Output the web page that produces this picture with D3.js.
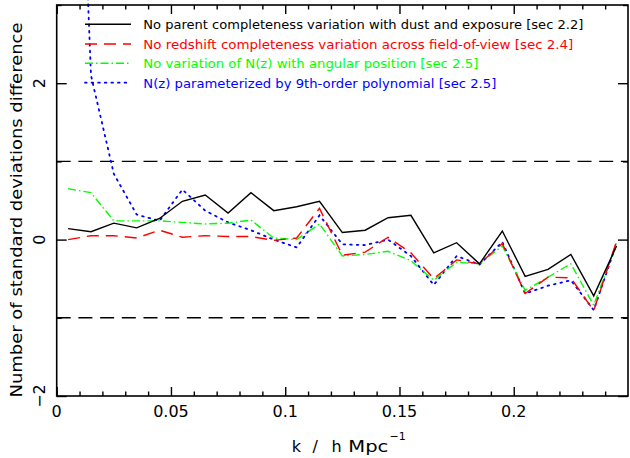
<!DOCTYPE html>
<html><head><meta charset="utf-8">
<script src="https://cdn.jsdelivr.net/npm/d3@7"></script>
<style>html,body{margin:0;padding:0;background:#fff;}svg{display:block;}</style>
</head><body>
<svg id="c" width="630" height="458"></svg>
<script>
const kValues = [0.005,0.015,0.025,0.035,0.045,0.055,0.065,0.075,0.085,0.095,0.105,0.115,0.125,0.135,0.145,0.155,0.165,0.175,0.185,0.195,0.205,0.215,0.225,0.235,0.245];
const parentDust = [0.14,0.10,0.21,0.15,0.27,0.49,0.57,0.34,0.60,0.37,0.42,0.49,0.09,0.12,0.28,0.31,-0.17,-0.04,-0.31,0.11,-0.47,-0.38,-0.19,-0.72,-0.08];
const redshiftFov = [0.00,0.05,0.05,0.02,0.12,0.03,0.05,0.04,0.04,-0.01,0.02,0.40,-0.20,-0.16,0.03,-0.17,-0.50,-0.26,-0.31,-0.05,-0.69,-0.48,-0.49,-0.91,-0.02];
const nzAngular = [0.65,0.60,0.24,0.24,0.24,0.22,0.20,0.21,0.25,0.02,0.00,0.20,-0.21,-0.19,-0.15,-0.27,-0.52,-0.29,-0.31,-0.08,-0.65,-0.48,-0.31,-0.84,-0.05];
const nzPoly9 = [9.5,2.1,0.84,0.32,0.24,0.64,0.37,0.22,0.12,0.00,-0.10,0.31,-0.06,-0.07,0.00,-0.21,-0.58,-0.21,-0.32,-0.03,-0.69,-0.59,-0.52,-0.90,-0.05];
const legendLabels = [
  "No parent completeness variation with dust and exposure [sec 2.2]",
  "No redshift completeness variation across field-of-view [sec 2.4]",
  "No variation of N(z) with angular position [sec 2.5]",
  "N(z) parameterized by 9th-order polynomial [sec 2.5]"
];
const xTickLabels = ["0","0.05","0.1","0.15","0.2"];
const xTickValues = [0,0.05,0.1,0.15,0.2];
const xMinorValues = [0.01,0.02,0.03,0.04,0.06,0.07,0.08,0.09,0.11,0.12,0.13,0.14,0.16,0.17,0.18,0.19,0.21,0.22,0.23,0.24];
const yTickValues = [-2,0,2];
const yTickLabels = ["\u22122","0","2"];
const yMinorValues = [-1,1,3];
const refLines = [1,-1];

const series = [
  {vals: parentDust, color: "#000000", dash: null},
  {vals: redshiftFov, color: "#ff0000", dash: "12,7"},
  {vals: nzAngular, color: "#00ff00", dash: "8,3,1.5,3"},
  {vals: nzPoly9, color: "#0000ff", dash: "1.6,5"}
];
const legendWidths = [440, 430, 335, 353];

const svg = d3.select("#c");
const L = 56.7, R = 628, T = 5, B = 396;
const x = d3.scaleLinear().domain([0,0.25]).range([L,R]);
const y = d3.scaleLinear().domain([-2,3]).range([B,T]);
const font = "DejaVu Sans, sans-serif";

svg.append("defs").append("clipPath").attr("id","clip")
  .append("rect").attr("x",L).attr("y",0).attr("width",R-L).attr("height",B);

// reference dashed lines
svg.selectAll("line.ref").data(refLines).enter().append("line")
  .attr("x1",L).attr("x2",R).attr("y1",d=>y(d)).attr("y2",d=>y(d))
  .attr("stroke","#000").attr("stroke-width",1.4).attr("stroke-dasharray","14,7.7");

// series
const line = d3.line().x((d,i)=>x(kValues[i])).y(d=>y(d));
const g = svg.append("g").attr("clip-path","url(#clip)");
series.slice().reverse().forEach(s=>{
  g.append("path").attr("d",line(s.vals)).attr("fill","none")
    .attr("stroke",s.color).attr("stroke-width",s.color==="#0000ff"?1.8:1.4)
    .attr("stroke-linecap", s.color==="#0000ff"?"round":"butt")
    .attr("stroke-dasharray",s.dash);
});

// axes via d3
const xMajor = d3.axisBottom(x).tickValues(xTickValues).tickFormat("").tickSizeInner(-9).tickSizeOuter(0);
const xMinor = d3.axisBottom(x).tickValues(xMinorValues).tickFormat("").tickSizeInner(-4.5).tickSizeOuter(0);
const xMajorT = d3.axisTop(x).tickValues(xTickValues).tickFormat("").tickSizeInner(-9).tickSizeOuter(0);
const xMinorT = d3.axisTop(x).tickValues(xMinorValues).tickFormat("").tickSizeInner(-4.5).tickSizeOuter(0);
const yMajor = d3.axisLeft(y).tickValues(yTickValues).tickFormat("").tickSizeInner(-10).tickSizeOuter(0);
const yMinor = d3.axisLeft(y).tickValues(yMinorValues).tickFormat("").tickSizeInner(-5).tickSizeOuter(0);
const yMajorR = d3.axisRight(y).tickValues(yTickValues).tickFormat("").tickSizeInner(-10).tickSizeOuter(0);
const yMinorR = d3.axisRight(y).tickValues(yMinorValues).tickFormat("").tickSizeInner(-5).tickSizeOuter(0);
[[xMajor,`translate(0,${B})`],[xMinor,`translate(0,${B})`],[xMajorT,`translate(0,${T})`],[xMinorT,`translate(0,${T})`],
 [yMajor,`translate(${L},0)`],[yMinor,`translate(${L},0)`],[yMajorR,`translate(${R},0)`],[yMinorR,`translate(${R},0)`]]
 .forEach(([ax,tr])=>{
   const a = svg.append("g").attr("transform",tr).call(ax);
   a.select(".domain").remove();
   a.selectAll("line").attr("stroke","#000").attr("stroke-width",1.4);
 });

// frame
svg.append("rect").attr("x",L).attr("y",T).attr("width",R-L).attr("height",B-T)
  .attr("fill","none").attr("stroke","#000").attr("stroke-width",1.6);

// x tick labels
svg.selectAll("text.xt").data(xTickValues).enter().append("text")
  .attr("x",d=>x(d)).attr("y",417).attr("text-anchor","middle")
  .attr("font-family",font).attr("font-size",16).attr("fill","#000")
  .text((d,i)=>xTickLabels[i]);

// y tick labels (rotated)
svg.selectAll("text.yt").data(yTickValues).enter().append("text")
  .attr("transform",d=>`translate(45,${y(d)}) rotate(-90)`)
  .attr("text-anchor","middle").attr("font-family",font).attr("font-size",16).attr("fill","#000")
  .text((d,i)=>yTickLabels[i]);

// x title (pieces placed as in the reference's wide spacing)
const xt = svg.append("g").attr("font-family",font).attr("font-size",16).attr("fill","#000");
xt.append("text").attr("x",291.7).attr("y",451.5).text("k");
xt.append("text").attr("x",312.5).attr("y",451.5).text("/");
xt.append("text").attr("x",331.5).attr("y",451.5).text("h");
xt.append("text").attr("x",348.3).attr("y",451.5).attr("textLength",40).attr("lengthAdjust","spacingAndGlyphs").text("Mpc");
xt.append("text").attr("x",389.5).attr("y",439.5).attr("font-size",11).text("\u22121");

// y title
svg.append("text").attr("transform","translate(21.5,210) rotate(-90)")
  .attr("text-anchor","middle").attr("font-family",font).attr("font-size",16).attr("fill","#000")
  .attr("textLength",375).attr("lengthAdjust","spacingAndGlyphs")
  .text("Number of standard deviations difference");

// legend
const rowY = [24.3, 44, 63.3, 82.7];
series.forEach((s,i)=>{
  svg.append("line").attr("x1",85).attr("x2",131).attr("y1",rowY[i]).attr("y2",rowY[i])
    .attr("stroke",s.color).attr("stroke-width",s.color==="#0000ff"?1.8:1.4)
    .attr("stroke-linecap", s.color==="#0000ff"?"round":"butt")
    .attr("stroke-dasharray",s.dash);
  svg.append("text").attr("x",143.3).attr("y",rowY[i]+5)
    .attr("font-family",font).attr("font-size",13).attr("fill",s.color)
    .attr("textLength",legendWidths[i]).attr("lengthAdjust","spacingAndGlyphs")
    .text(legendLabels[i]);
});
</script>
</body></html>
